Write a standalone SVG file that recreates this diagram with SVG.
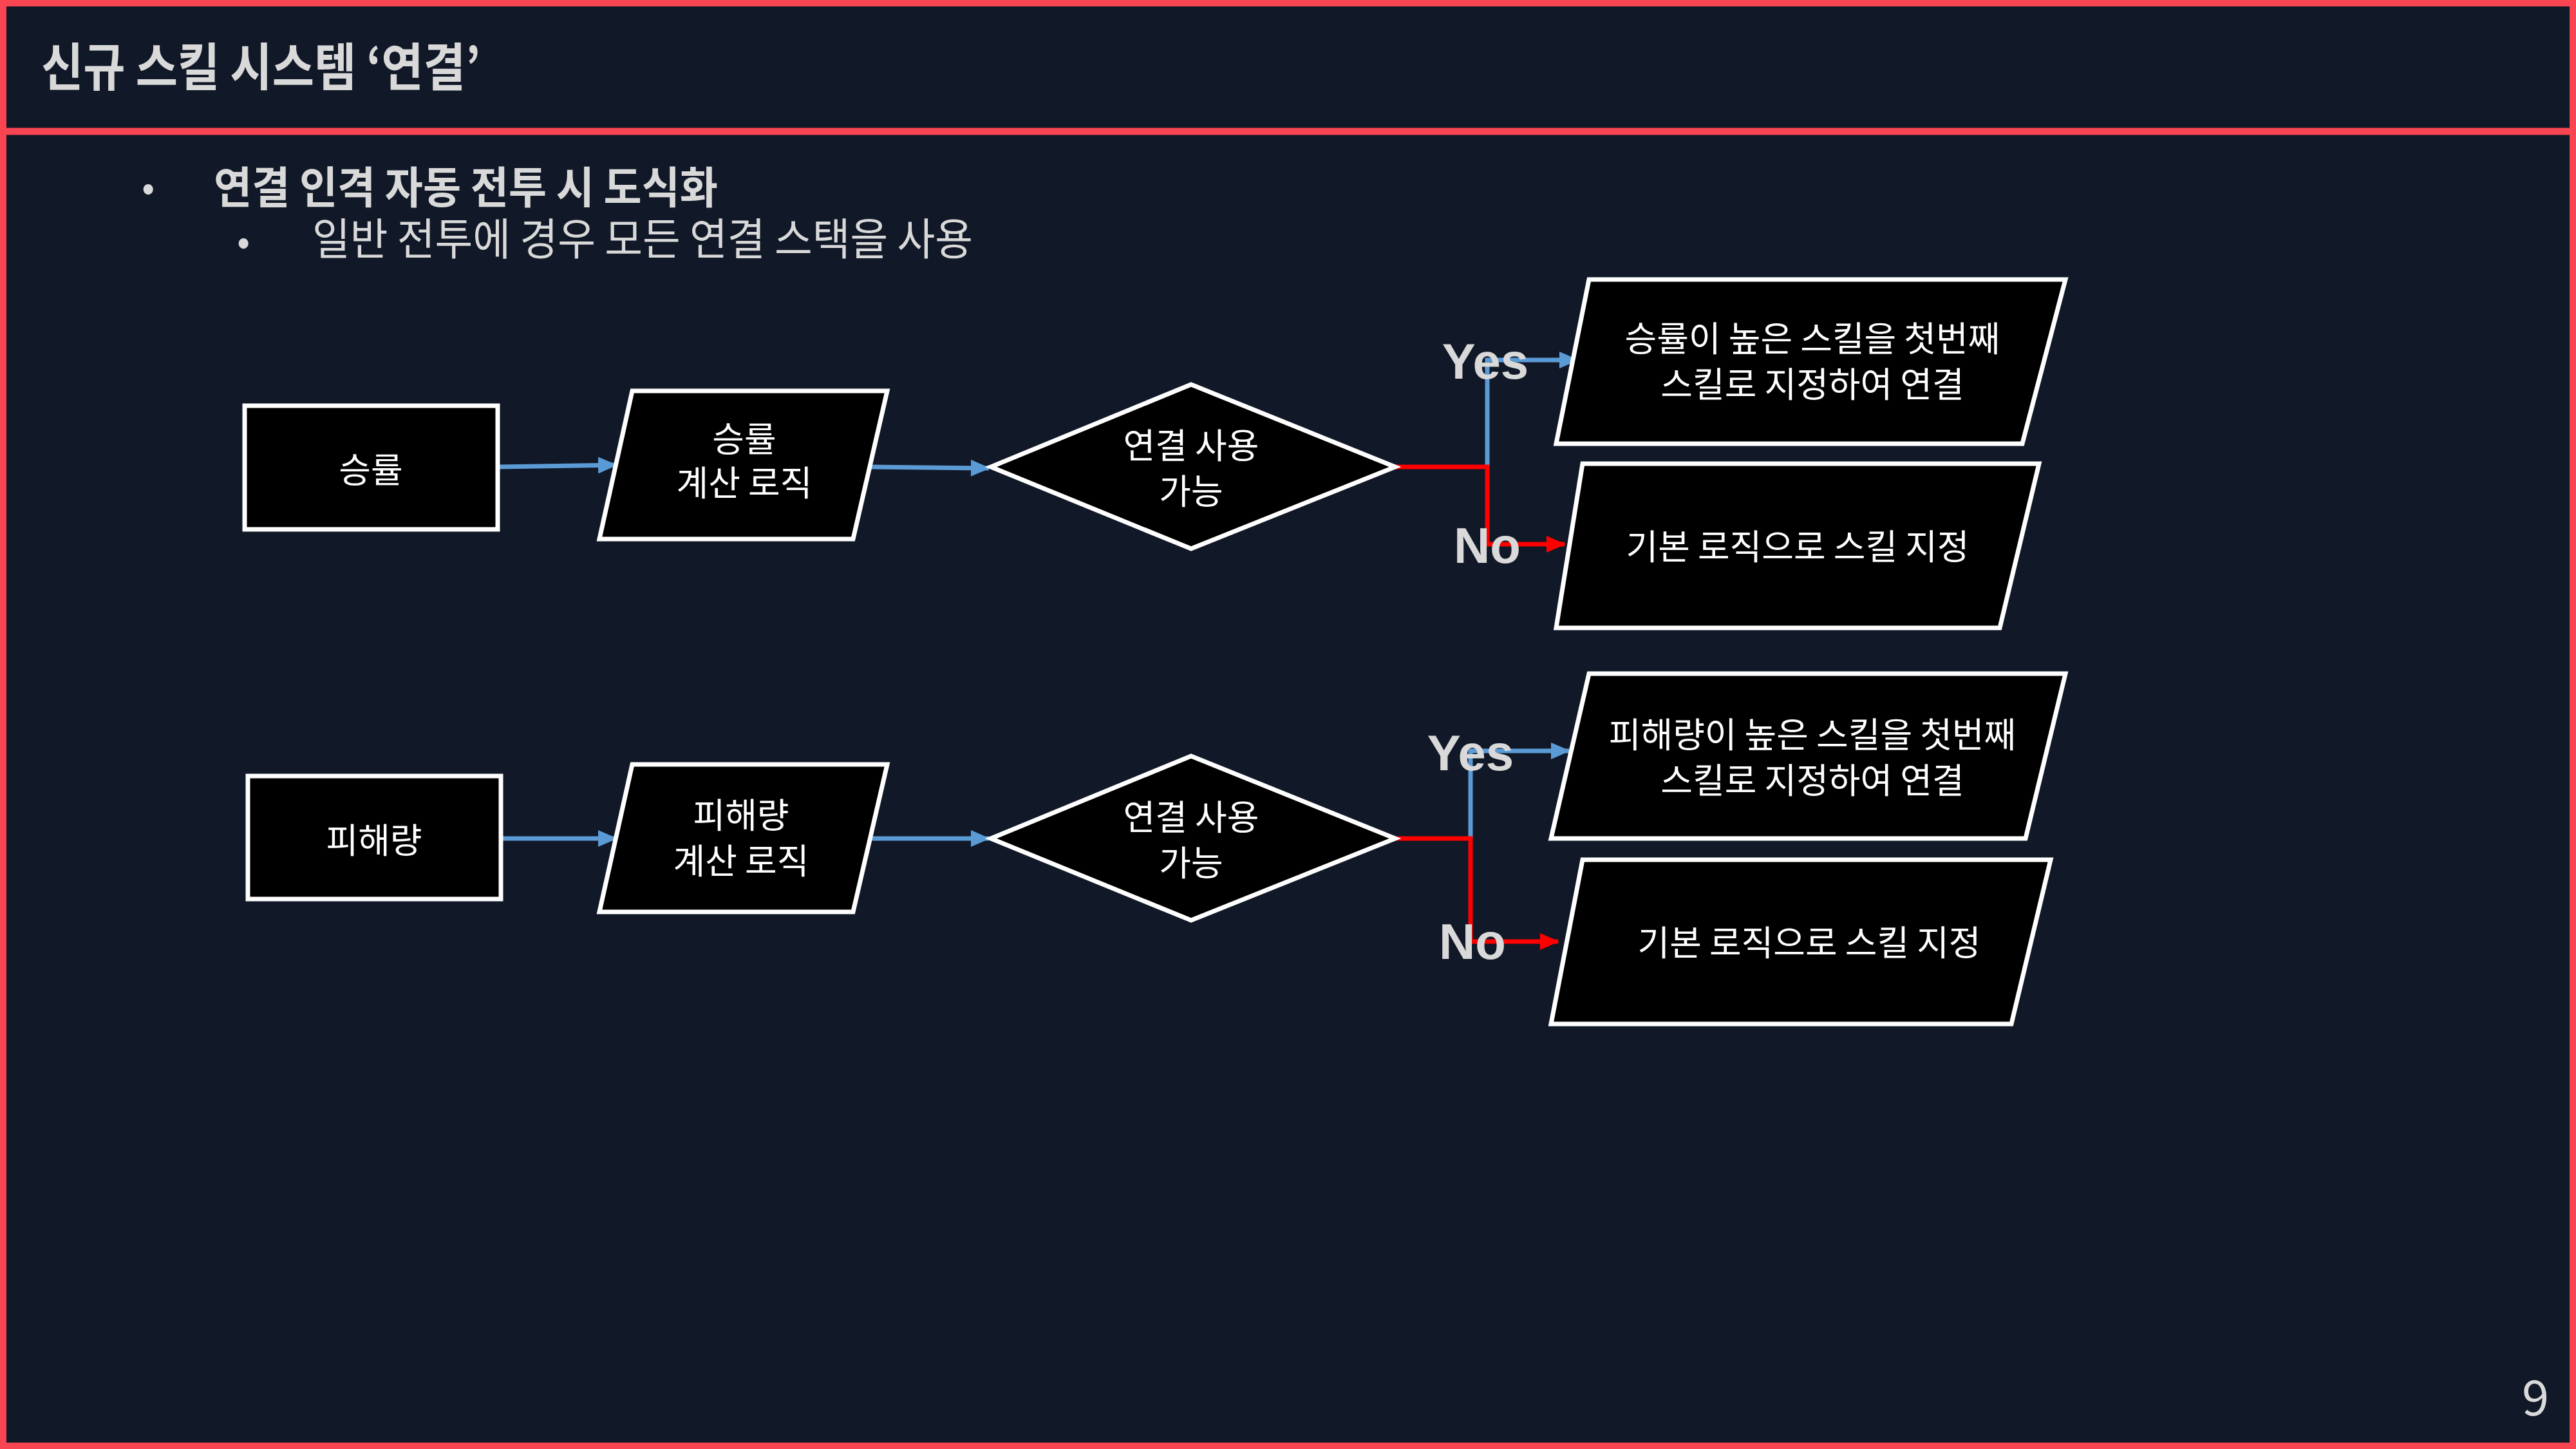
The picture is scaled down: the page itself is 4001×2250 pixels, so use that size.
<svg xmlns="http://www.w3.org/2000/svg" width="4001" height="2250" viewBox="0 0 4001 2250">
<defs>
<style>
.t{font-family:"Noto Sans CJK KR","Liberation Sans",sans-serif;fill:#FFFFFF;font-size:54px;text-anchor:middle;dominant-baseline:central}
.h{font-family:"Noto Sans CJK KR","Liberation Sans",sans-serif;fill:#D9D9D9}
.yn{font-family:"Liberation Sans","Noto Sans CJK KR",sans-serif;fill:#D9D9D9;font-weight:bold;font-size:78px;text-anchor:middle;dominant-baseline:central}
.box{fill:#000;stroke:#FFF;stroke-width:7}
.b{fill:none;stroke:#5B9BD5;stroke-width:7}
.r{fill:none;stroke:#FF0000;stroke-width:7}
</style>
<marker id="ab" markerUnits="userSpaceOnUse" markerWidth="30" markerHeight="26" refX="28" refY="13" orient="auto"><path d="M0,0 L30,13 L0,26 Z" fill="#5B9BD5"/></marker>
<marker id="ar" markerUnits="userSpaceOnUse" markerWidth="30" markerHeight="26" refX="28" refY="13" orient="auto"><path d="M0,0 L30,13 L0,26 Z" fill="#FF0000"/></marker>
</defs>
<rect x="0" y="0" width="4001" height="2250" fill="#111827"/>
<rect x="5" y="5" width="3991" height="2240" fill="none" stroke="#F94452" stroke-width="10"/>
<line x1="0" y1="204" x2="4001" y2="204" stroke="#F94452" stroke-width="11"/>
<text class="h" x="64" y="133" font-size="80" font-weight="bold" textLength="682" lengthAdjust="spacingAndGlyphs">신규 스킬 시스템 ‘연결’</text>
<text class="h" x="220" y="312" font-size="60">•</text>
<text class="h" x="332" y="316" font-size="68" font-weight="bold" textLength="783" lengthAdjust="spacingAndGlyphs">연결 인격 자동 전투 시 도식화</text>
<text class="h" x="368" y="396" font-size="60">•</text>
<text class="h" x="485" y="396" font-size="68" textLength="1026" lengthAdjust="spacingAndGlyphs">일반 전투에 경우 모든 연결 스택을 사용</text>
<text class="h" x="3938" y="2198" font-size="76" text-anchor="middle">9</text>

<g id="connectors">
<line class="b" x1="773" y1="725" x2="957" y2="722" marker-end="url(#ab)"/>
<line class="b" x1="1350" y1="725" x2="1536" y2="727" marker-end="url(#ab)"/>
<polyline class="b" points="2310,725 2310,559 2450,559" marker-end="url(#ab)"/>
<polyline class="r" points="2167,725 2310,725 2310,845 2430,845" marker-end="url(#ar)"/>
<line class="b" x1="778" y1="1302" x2="957" y2="1302" marker-end="url(#ab)"/>
<line class="b" x1="1350" y1="1302" x2="1536" y2="1302" marker-end="url(#ab)"/>
<polyline class="b" points="2284,1302 2284,1166 2437,1166" marker-end="url(#ab)"/>
<polyline class="r" points="2167,1302 2284,1302 2284,1462 2420,1462" marker-end="url(#ar)"/>
<text class="yn" x="2307" y="561">Yes</text>
<text class="yn" x="2310" y="847">No</text>
<text class="yn" x="2284" y="1169">Yes</text>
<text class="yn" x="2287" y="1462">No</text>
</g>

<g id="n1"><rect class="box" x="380" y="630" width="393" height="192"/><text class="t" x="576" y="726">승률</text></g>
<g id="n2"><polygon class="box" points="982,607 1378,607 1325,837 931,837"/><text class="t" x="1156" y="678">승률</text><text class="t" x="1156" y="746">계산 로직</text></g>
<g id="n3"><polygon class="box" points="1539,725 1850,597 2167,725 1850,852"/><text class="t" x="1850" y="688">연결 사용</text><text class="t" x="1850" y="759">가능</text></g>
<g id="n4"><polygon class="box" points="2468,434 3208,434 3141,689 2417,689"/><text class="t" x="2815" y="522">승률이 높은 스킬을 첫번째</text><text class="t" x="2815" y="593">스킬로 지정하여 연결</text></g>
<g id="n5"><polygon class="box" points="2458,720 3167,720 3106,975 2417,975"/><text class="t" x="2792" y="845">기본 로직으로 스킬 지정</text></g>

<g id="n6"><rect class="box" x="385" y="1205" width="393" height="191"/><text class="t" x="581" y="1301">피해량</text></g>
<g id="n7"><polygon class="box" points="982,1187 1378,1187 1325,1416 931,1416"/><text class="t" x="1151" y="1262">피해량</text><text class="t" x="1151" y="1333">계산 로직</text></g>
<g id="n8"><polygon class="box" points="1539,1302 1850,1174 2167,1302 1850,1429"/><text class="t" x="1850" y="1265">연결 사용</text><text class="t" x="1850" y="1336">가능</text></g>
<g id="n9"><polygon class="box" points="2468,1046 3208,1046 3146,1302 2409,1302"/><text class="t" x="2815" y="1137">피해량이 높은 스킬을 첫번째</text><text class="t" x="2815" y="1208">스킬로 지정하여 연결</text></g>
<g id="n10"><polygon class="box" points="2458,1335 3185,1335 3124,1590 2409,1590"/><text class="t" x="2810" y="1460">기본 로직으로 스킬 지정</text></g>
</svg>
